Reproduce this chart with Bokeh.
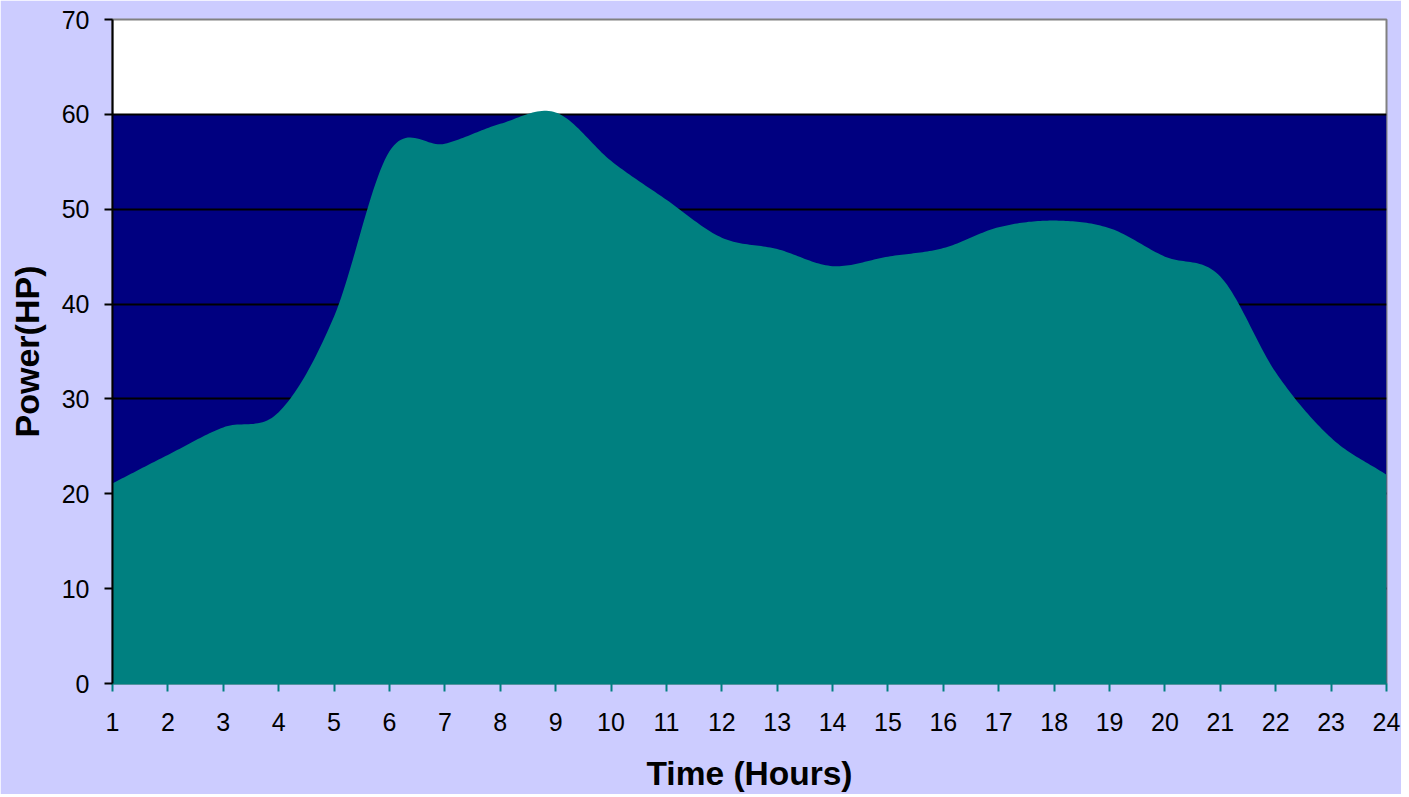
import numpy as np
from bokeh.plotting import figure
from bokeh.models import Range1d, FixedTicker
from bokeh.embed import file_html
from bokeh.resources import INLINE

# ---- data ----
hours = list(range(1, 25))
power_hp = [21.1, 24.1, 27.0, 28.6, 38.7, 56.1, 56.9, 59.0, 60.2, 55.1, 51.0, 47.0,
            45.8, 44.0, 45.0, 45.9, 48.1, 48.8, 48.0, 45.0, 42.9, 32.8, 25.9, 22.0]
rated_limit = 60
y_ticks = [0, 10, 20, 30, 40, 50, 60, 70]
x_title = "Time (Hours)"
y_title = "Power(HP)"

FONT = "Liberation Sans"
BG = "#CCCCFF"
NAVY = "#000080"
TEAL = "#008080"


def smoothed(xs, ys, steps=24):
    """Smoothed-line rendering (Catmull-Rom) through the data points."""
    xs = np.asarray(xs, float)
    ys = np.asarray(ys, float)
    n = len(xs)
    px, py = [], []
    for i in range(n - 1):
        x0, x1 = xs[i], xs[i + 1]
        y0, y1 = ys[i], ys[i + 1]
        yp = ys[i - 1] if i > 0 else y0
        yn = ys[i + 2] if i + 2 < n else y1
        m0 = (y1 - yp) / (2.0 if i > 0 else 1.0)
        m1 = (yn - y0) / (2.0 if i + 2 < n else 1.0)
        t = np.linspace(0, 1, steps, endpoint=False)
        h00 = 2 * t**3 - 3 * t**2 + 1
        h10 = t**3 - 2 * t**2 + t
        h01 = -2 * t**3 + 3 * t**2
        h11 = t**3 - t**2
        px.extend(x0 + (x1 - x0) * t)
        py.extend(h00 * y0 + h10 * m0 + h01 * y1 + h11 * m1)
    px.append(xs[-1])
    py.append(ys[-1])
    return np.array(px), np.array(py)


p = figure(
    output_backend="svg", toolbar_location=None,
    frame_width=1274, frame_height=664,
    min_border_left=112, min_border_right=15, min_border_top=19, min_border_bottom=100,
    x_range=Range1d(hours[0], hours[-1]), y_range=Range1d(0, 70),
    background_fill_color="white", border_fill_color=BG,
    outline_line_color="#808080", outline_line_width=2,
)

# navy capacity band (below grid)
band = p.varea(x=[hours[0], hours[-1]], y1=[0, 0], y2=[rated_limit, rated_limit],
               fill_color=NAVY, fill_alpha=1.0)
band.level = "image"

# teal smoothed power area
sx, sy = smoothed(hours, power_hp)
p.varea(x=sx, y1=np.zeros_like(sy), y2=sy, fill_color=TEAL, fill_alpha=1.0)

# grid
p.xgrid.grid_line_color = None
p.ygrid.grid_line_color = "black"
p.ygrid.grid_line_width = 2
p.ygrid.ticker = FixedTicker(ticks=y_ticks)

# axes
p.xaxis.ticker = FixedTicker(ticks=hours)
p.yaxis.ticker = FixedTicker(ticks=y_ticks)
for ax in (p.xaxis[0], p.yaxis[0]):
    ax.major_label_text_font = FONT
    ax.major_label_text_font_size = "25px"
    ax.major_label_text_color = "black"
    ax.minor_tick_line_color = None
    ax.major_tick_in = 0
    ax.major_tick_out = 8
    ax.axis_label_text_font = FONT
    ax.axis_label_text_font_style = "bold"
    ax.axis_label_text_color = "black"

p.xaxis.axis_line_color = TEAL
p.xaxis.axis_line_width = 2
p.xaxis.major_tick_line_color = TEAL
p.xaxis.major_tick_line_width = 2
p.xaxis.major_label_standoff = 21
p.xaxis.axis_label = x_title
p.xaxis.axis_label_text_font_size = "33.5px"
p.xaxis.axis_label_standoff = 21

p.yaxis.axis_line_color = "black"
p.yaxis.axis_line_width = 2
p.yaxis.major_tick_line_color = "black"
p.yaxis.major_tick_line_width = 2
p.yaxis.major_label_standoff = 15
p.yaxis.axis_label = y_title
p.yaxis.axis_label_text_font_size = "34px"
p.yaxis.axis_label_standoff = 13

open("out.html", "w").write(file_html(p, INLINE))
